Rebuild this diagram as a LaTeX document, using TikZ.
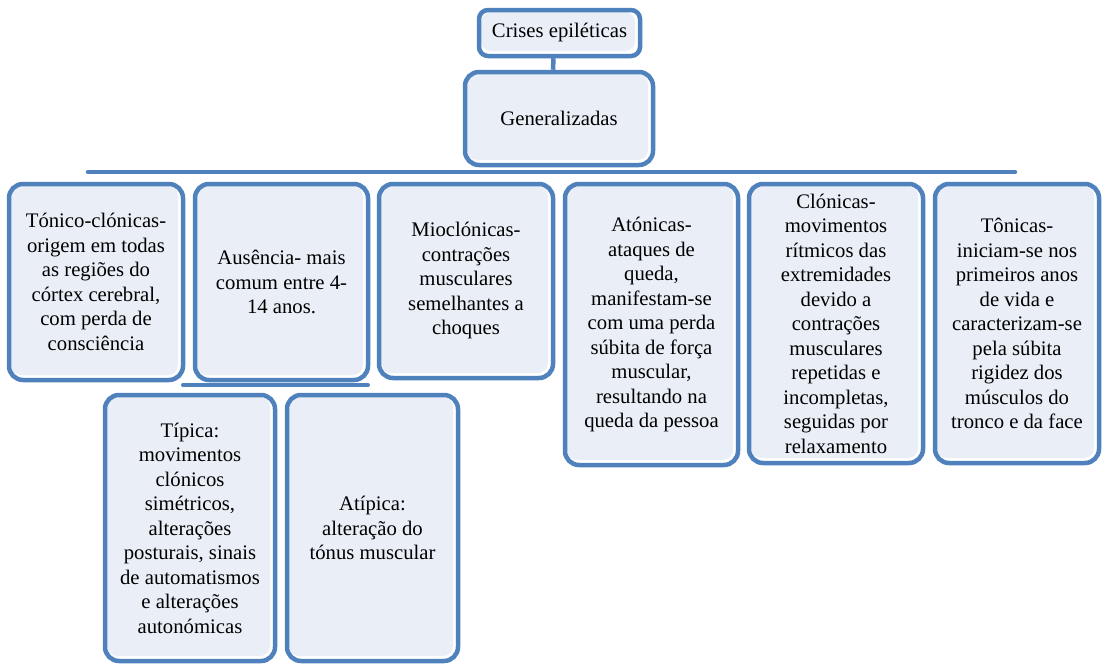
\documentclass[tikz,border=0pt]{standalone}
\usepackage{fontspec}
\setmainfont{Liberation Serif}
\usetikzlibrary{calc}
\definecolor{azul}{HTML}{4F81BD}
\definecolor{fundo}{HTML}{EAEFF7}
\tikzset{
  caixa/.style={draw=azul, line width=4.5pt, rounded corners=14pt, fill=white, align=center,
    inner sep=2pt, font=\fontsize{20.7}{24.5}\selectfont,
    path picture={\fill[fundo, rounded corners=10pt]
      ($(path picture bounding box.south west)+(2pt,5pt)$) rectangle
      ($(path picture bounding box.north east)+(-5pt,-2pt)$);}},
  barra/.style={draw=azul, line width=4.5pt, line cap=round},
}

\begin{document}
\begin{tikzpicture}[x=1pt, y=-1pt]
  \useasboundingbox[fill=white] (0,0) rectangle (1102,664);
  % topo
  \node[caixa, rounded corners=9pt, minimum width=161pt, minimum height=46pt] (crises) at (559.5,33) {Crises epiléticas};
  \node[caixa, minimum width=188pt, minimum height=93pt] (gen) at (559,118.5) {Generalizadas};
  \draw[barra, line cap=butt] ([xshift=-6pt]crises.south) -- ([xshift=-6pt]gen.north);
  % barra principal
  \coordinate (barL) at (88,172);
  \coordinate (barR) at (1015,172);
  \draw[barra] (barL) -- (barR);
  % tipos
  \node[caixa, minimum width=174pt, minimum height=196pt] (tonclon) at (96,282)
    {Tónico-clónicas-\\origem em todas\\as regiões do\\córtex cerebral,\\com perda de\\consciência};
  \node[caixa, minimum width=173pt, minimum height=196pt] (aus) at (281.5,282)
    {Ausência- mais\\comum entre 4-\\14 anos.};
  \node[caixa, minimum width=174pt, minimum height=194pt] (mio) at (466,281)
    {Mioclónicas-\\contrações\\musculares\\semelhantes a\\choques};
  \node[caixa, minimum width=173pt, minimum height=281pt] (aton) at (651.5,324.5)
    {Atónicas-\\ataques de\\queda,\\manifestam-se\\com uma perda\\súbita de força\\muscular,\\resultando na\\queda da pessoa};
  \node[caixa, minimum width=174pt, minimum height=279pt] (clon) at (836,323.5)
    {Clónicas-\\movimentos\\rítmicos das\\extremidades\\devido a\\contrações\\musculares\\repetidas e\\incompletas,\\seguidas por\\relaxamento};
  \node[caixa, minimum width=164pt, minimum height=279pt] (tonic) at (1017,323.5)
    {Tônicas-\\iniciam-se nos\\primeiros anos\\de vida e\\caracterizam-se\\pela súbita\\rigidez dos\\músculos do\\tronco e da face};
  % ausencia
  \coordinate (subL) at (183,385);
  \coordinate (subR) at (368,385);
  \draw[barra, line width=4pt] (subL) -- (subR);
  \node[caixa, minimum width=170pt, minimum height=266pt] (tipica) at (190,528)
    {Típica:\\movimentos\\clónicos\\simétricos,\\alterações\\posturais, sinais\\de automatismos\\e alterações\\autonómicas};
  \node[caixa, minimum width=171pt, minimum height=266pt] (atipica) at (372.5,528)
    {Atípica:\\alteração do\\tónus muscular};
\end{tikzpicture}
\end{document}
